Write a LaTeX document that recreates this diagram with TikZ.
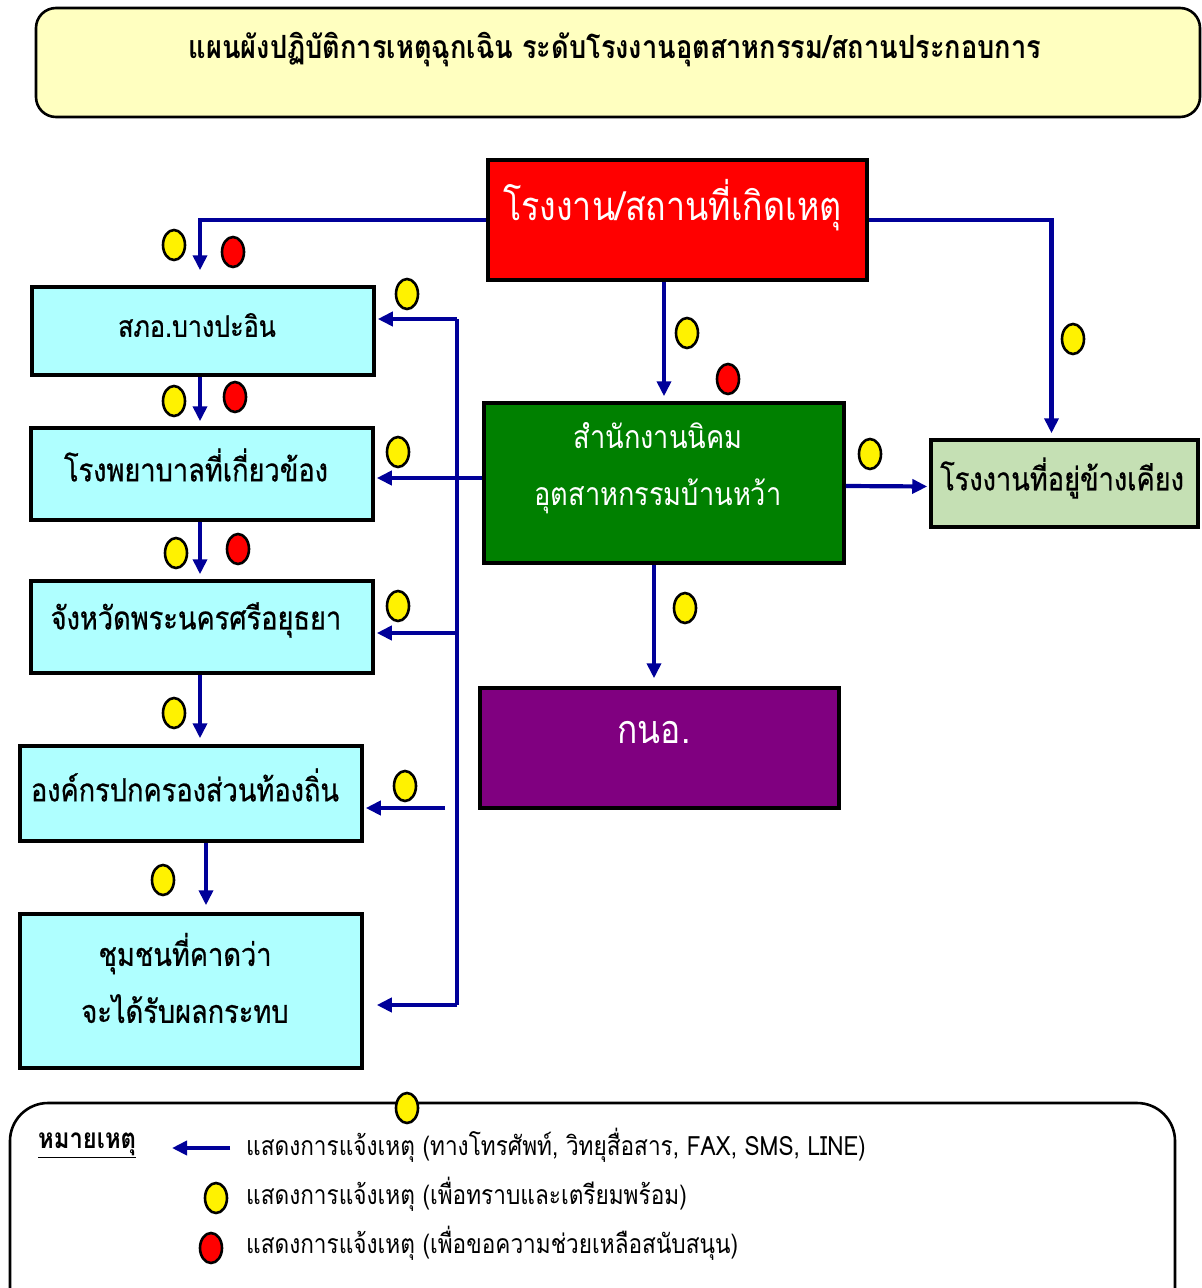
\documentclass[tikz,border=0pt]{standalone}
\usepackage{fontspec}
\setmainfont[Script=Thai,FakeStretch=0.85]{Loma}
\newfontfamily\boxfont[Script=Thai,FakeStretch=0.85,FakeBold=0.7]{Loma}
\usetikzlibrary{shapes.geometric,arrows.meta}
\definecolor{navy}{RGB}{0,0,153}
\definecolor{cyanbox}{RGB}{175,255,255}
\definecolor{lgbox}{RGB}{197,224,180}
\definecolor{titlefill}{RGB}{255,255,192}
\definecolor{greenbox}{RGB}{0,128,0}
\definecolor{purplebox}{RGB}{128,0,128}
\tikzset{
  box/.style={draw=black,line width=3.5pt,inner sep=0pt},
  txt/.style={inner sep=0pt,font=\boxfont\fontsize{32}{38}\selectfont,align=center},
  wtxt/.style={txt,text=white},
  legtxt/.style={inner sep=0pt,anchor=west,font=\fontsize{26.6}{30}\selectfont},
  conn/.style={draw=navy,line width=4.2pt,-{Triangle[length=15pt,width=14pt]}},
  bus/.style={draw=navy,line width=4.2pt},
  ydot/.style={ellipse,draw=black,line width=2.6pt,fill=yellow,minimum width=22pt,minimum height=30pt,inner sep=0pt},
  rdot/.style={ydot,fill=red},
}
\begin{document}
\begin{tikzpicture}[x=1pt,y=-1pt]
\useasboundingbox (0,0) rectangle (1202,1288);
% title
\node[draw=black,line width=2.6pt,rounded corners=20pt,fill=titlefill,minimum width=1164pt,minimum height=109pt,inner sep=0pt] (title) at (618,62.5) {};
\node[txt,font=\bfseries\fontsize{32}{38}\selectfont] (titlet) at (615,50) {แผนผังปฏิบัติการเหตุฉุกเฉิน ระดับโรงงานอุตสาหกรรม/สถานประกอบการ};
% boxes
\node[box,fill=red,minimum width=379pt,minimum height=120pt] (red) at (677.5,220) {};
\node[wtxt,anchor=west,font=\fontsize{40}{46}\selectfont] (redt) at (503,205) {โรงงาน/สถานที่เกิดเหตุ};
\node[box,fill=greenbox,minimum width=360pt,minimum height=160pt] (green) at (664,483) {};
\node[wtxt,font=\fontsize{32}{57}\selectfont] (greent) at (658,468) {สำนักงานนิคม\\อุตสาหกรรมบ้านหว้า};
\node[box,fill=lgbox,minimum width=267pt,minimum height=87pt] (lg) at (1064.5,483.5) {};
\node[txt,anchor=west] (lgt) at (940,478) {โรงงานที่อยู่ข้างเคียง};
\node[box,fill=purplebox,minimum width=359pt,minimum height=120pt] (pur) at (659.5,748) {};
\node[wtxt,font=\fontsize{39.5}{44}\selectfont] (purt) at (654,733) {กนอ.};
\node[box,fill=cyanbox,minimum width=342pt,minimum height=88pt] (sbo) at (203,331) {};
\node[txt,font=\boxfont\fontsize{29.5}{34}\selectfont] (sbot) at (197,325) {สภอ.บางปะอิน};
\node[box,fill=cyanbox,minimum width=342pt,minimum height=92pt] (hosp) at (202,474) {};
\node[txt] (hospt) at (196,465) {โรงพยาบาลที่เกี่ยวข้อง};
\node[box,fill=cyanbox,minimum width=342pt,minimum height=92pt] (jw) at (202,627) {};
\node[txt] (jwt) at (196,620) {จังหวัดพระนครศรีอยุธยา};
\node[box,fill=cyanbox,minimum width=342pt,minimum height=95pt] (org) at (191,793.5) {};
\node[txt] (orgt) at (185,785) {องค์กรปกครองส่วนท้องถิ่น};
\node[box,fill=cyanbox,minimum width=342pt,minimum height=154pt] (comm) at (191,991) {};
\node[txt,font=\boxfont\fontsize{32}{57}\selectfont] (commt) at (185,978) {ชุมชนที่คาดว่า\\จะได้รับผลกระทบ};
% connectors from accident site
\draw[conn,shorten >=15pt] (red.west) -| (sbo.north -| 200,0);
\draw[conn,shorten >=5pt] (red.east) -| ([xshift=-13pt]lg.north);
\draw[conn,shorten >=5pt] (green.north |- red.south) -- (green.north);
\draw[conn,shorten >=2pt] ([yshift=-3pt]green.east) -- ([yshift=-3pt]lg.west);
\draw[conn,shorten >=8pt] (purt.center |- green.south) -- (purt.center |- pur.north);
\draw[conn,shorten >=2pt] ([yshift=5pt]green.west) -- ([yshift=5pt]green.west -| hosp.east);
% bus
\coordinate (bt) at (457,319);
\coordinate (bj) at (457,633);
\coordinate (bb) at (457,1005);
\coordinate (oa) at (445,808);
\draw[bus] (bt) -- (bb);
\draw[conn,shorten >=2pt] (bt) -- (bt -| sbo.east);
\draw[conn,shorten >=2pt] (bj) -- (bj -| jw.east);
\draw[conn,shorten >=13pt] (bb) -- (bb -| comm.east);
\draw[conn,shorten >=2pt] (oa) -- (oa -| org.east);
% downward chain
\draw[conn,shorten >=5pt] (sbo.south -| 200,0) -- (hosp.north -| 200,0);
\draw[conn,shorten >=5pt] (hosp.south -| 200,0) -- (jw.north -| 200,0);
\draw[conn,shorten >=6pt] (jw.south -| 200,0) -- (org.north -| 200,0);
\draw[conn,shorten >=7pt] (org.south -| 206,0) -- (comm.north -| 206,0);
% dots
\node[ydot] (y1) at (174,245) {};
\node[rdot] (r1) at (233,252) {};
\node[ydot] (y2) at (407,294) {};
\node[ydot] (y3) at (174,401) {};
\node[rdot] (r2) at (235,397) {};
\node[ydot] (y4) at (398,452) {};
\node[ydot] (y5) at (176,553) {};
\node[rdot] (r3) at (238,549) {};
\node[ydot] (y6) at (398,606) {};
\node[ydot] (y7) at (174,713) {};
\node[ydot] (y8) at (405,786) {};
\node[ydot] (y9) at (163,880) {};
\node[ydot] (y10) at (687,333) {};
\node[rdot] (r4) at (728,379) {};
\node[ydot] (y11) at (1073,339) {};
\node[ydot] (y12) at (870,454) {};
\node[ydot] (y13) at (685,608) {};
% legend
\draw[black,line width=2.6pt,rounded corners=38pt] (10,1103) rectangle (1175,1340);
\node[ydot] (y14) at (407,1108) {};
\node[inner sep=0pt,anchor=west,font=\bfseries\fontsize{28}{32}\selectfont] (legt) at (38,1145) {\underline{หมายเหตุ}};
\coordinate (la1) at (230,1148);
\coordinate (la2) at (172,1148);
\draw[conn] (la1) -- (la2);
\node[legtxt] (l1) at (246,1145) {แสดงการแจ้งเหตุ (ทางโทรศัพท์, วิทยุสื่อสาร, FAX, SMS, LINE)};
\node[ydot] (ly) at (216,1198) {};
\node[legtxt] (l2) at (246,1194) {แสดงการแจ้งเหตุ (เพื่อทราบและเตรียมพร้อม)};
\node[rdot] (lr) at (211,1248) {};
\node[legtxt] (l3) at (246,1243) {แสดงการแจ้งเหตุ (เพื่อขอความช่วยเหลือสนับสนุน)};
\end{tikzpicture}
\end{document}
